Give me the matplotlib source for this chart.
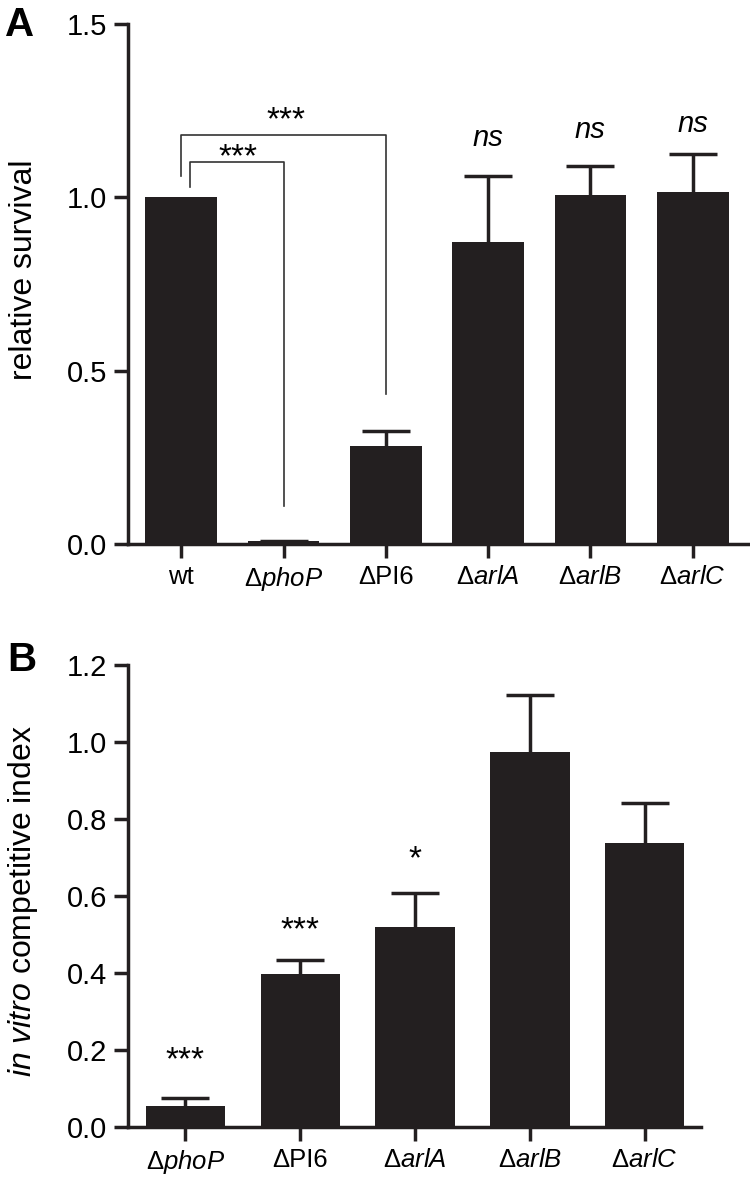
import matplotlib
matplotlib.use("Agg")
import matplotlib.pyplot as plt
import numpy as np

plt.rcParams['font.family'] = ['Liberation Sans', 'DejaVu Sans']
plt.rcParams['mathtext.fontset'] = 'custom'
plt.rcParams['mathtext.rm'] = 'Liberation Sans'
plt.rcParams['mathtext.it'] = 'Liberation Sans:italic'

# panel A data
strains_a = ['wt', 'Δ$\\mathit{phoP}$', 'ΔPI6', 'Δ$\\mathit{arlA}$', 'Δ$\\mathit{arlB}$', 'Δ$\\mathit{arlC}$']
survival = [1.0, 0.008, 0.283, 0.870, 1.007, 1.014]
survival_err = [0.0, 0.002, 0.044, 0.192, 0.082, 0.112]
ns_labels = ['ns', 'ns', 'ns']
ns_y = [1.148, 1.170, 1.188]

# panel B data
strains_b = ['Δ$\\mathit{phoP}$', 'ΔPI6', 'Δ$\\mathit{arlA}$', 'Δ$\\mathit{arlB}$', 'Δ$\\mathit{arlC}$']
ci = [0.055, 0.398, 0.520, 0.973, 0.738]
ci_err = [0.021, 0.035, 0.088, 0.149, 0.104]
stars_b = ['***', '***', '*', '', '']
stars_b_y = [0.150, 0.488, 0.672, None, None]

BAR = '#231f20'
LW = 2.5

fig = plt.figure(figsize=(7.5, 11.8), dpi=100)
axA = fig.add_axes([0.1707, 0.5390, 0.8293, 0.4407])
axB = fig.add_axes([0.1707, 0.0449, 0.7640, 0.3915])


def style(ax):
    for s in ['top', 'right']:
        ax.spines[s].set_visible(False)
    for s in ['left', 'bottom']:
        ax.spines[s].set_linewidth(LW)
        ax.spines[s].set_color(BAR)
    ax.tick_params(axis='both', length=10, width=LW, color=BAR, pad=5)
    ax.tick_params(axis='y', labelsize=21)
    ax.tick_params(axis='x', labelsize=18.5)


def bars(ax, vals, errs, width):
    x = np.arange(len(vals))
    vals = np.asarray(vals)
    errs = np.asarray(errs)
    ax.bar(x, vals, width=width, color=BAR, zorder=2)
    m = errs > 0  # no error bar where there is no error
    eb = ax.errorbar(x[m], vals[m], yerr=[np.zeros(m.sum()), errs[m]], fmt='none',
                     ecolor=BAR, elinewidth=LW, capsize=17.5, capthick=LW, zorder=1)
    eb[1][0].set_visible(False)  # only the upper cap
    return x


# ---- panel A
xa = bars(axA, survival, survival_err, 0.70)
style(axA)
axA.set_xlim(-0.52, 5.56)
axA.set_ylim(0, 1.5)
axA.set_yticks([0.0, 0.5, 1.0, 1.5])
axA.set_yticklabels(['0.0', '0.5', '1.0', '1.5'])
axA.set_xticks(xa)
axA.set_xticklabels(strains_a)
axA.set_ylabel('relative survival', fontsize=23)
axA.yaxis.set_label_coords(-0.143, 0.527)

# significance brackets
bk = dict(color='#333333', lw=1.2, zorder=3)
axA.plot([0.0, 0.0, 2.0, 2.0], [1.062, 1.181, 1.181, 0.432], **bk)
axA.plot([0.09, 0.09, 1.0, 1.0], [1.029, 1.103, 1.103, 0.109], **bk)
axA.text(1.02, 1.196, '***', ha='center', va='baseline', fontsize=24)
axA.text(0.556, 1.090, '***', ha='center', va='baseline', fontsize=24)
for i, (lab, y) in enumerate(zip(ns_labels, ns_y)):
    axA.text(3 + i, y, lab, ha='center', va='baseline', fontsize=21, style='italic')

# ---- panel B
xb = bars(axB, ci, ci_err, 0.69)
style(axB)
axB.set_xlim(-0.50, 4.49)
axB.set_ylim(0, 1.2)
axB.set_yticks(np.arange(0, 1.21, 0.2))
axB.set_yticklabels(['0.0', '0.2', '0.4', '0.6', '0.8', '1.0', '1.2'])
axB.set_xticks(xb)
axB.set_xticklabels(strains_b)
axB.set_ylabel('$\\mathit{in\\ vitro}$ competitive index', fontsize=23)
axB.yaxis.set_label_coords(-0.154, 0.49)
for x, s, y in zip(xb, stars_b, stars_b_y):
    if s:
        axB.text(x, y, s, ha='center', va='baseline', fontsize=24)

fig.text(0.006, 0.995, 'A', fontsize=29, fontweight='bold', va='top', ha='left')
fig.text(0.009, 0.457, 'B', fontsize=29, fontweight='bold', va='top', ha='left')

fig.savefig('out.png', dpi=100)
